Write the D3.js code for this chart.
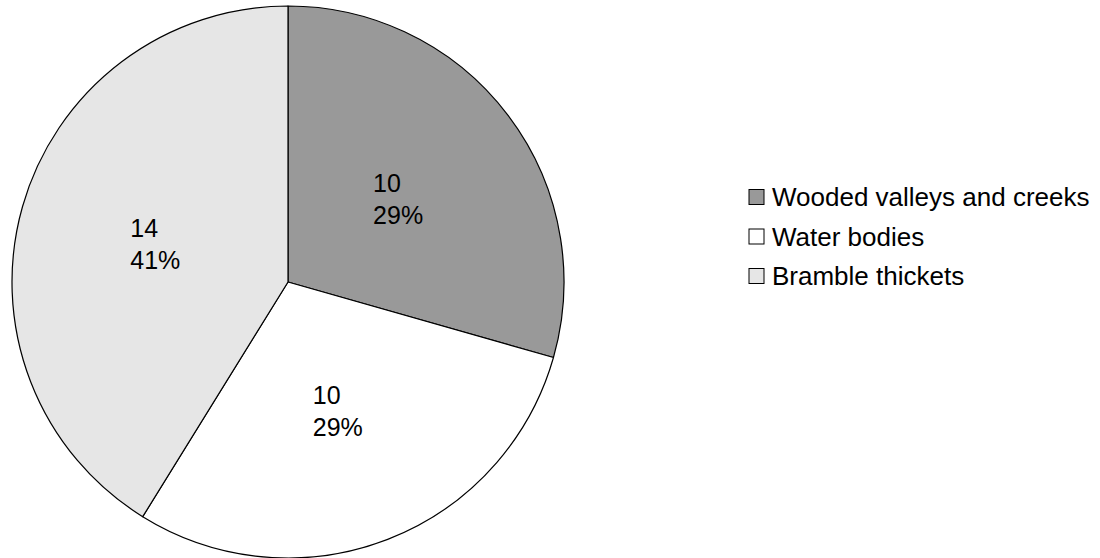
<!DOCTYPE html>
<html>
<head>
<meta charset="utf-8">
<script src="https://cdn.jsdelivr.net/npm/d3@7/dist/d3.min.js"></script>
<style>
  html, body { margin: 0; padding: 0; background: #fff; }
  svg { display: block; }
  text { font-family: "Liberation Sans", Arial, sans-serif; fill: #000; }
</style>
</head>
<body>
<svg id="chart" width="1100" height="558"></svg>
<script>
const categories = ["Wooded valleys and creeks", "Water bodies", "Bramble thickets"];
const values = [10, 10, 14];
const colors = ["#999999", "#ffffff", "#e6e6e6"];

const W = 1100, H = 558;
const cx = 288, cy = 282, R = 276;
const fontSize = 25;
const legendFontSize = 26;

const svg = d3.select("#chart");
const total = d3.sum(values);
const data = categories.map((c, i) => ({ name: c, value: values[i], color: colors[i] }));

const pie = d3.pie().value(d => d.value).sort(null);
const arcs = pie(data);
const arc = d3.arc().innerRadius(0).outerRadius(R);
const labelArc = d3.arc().innerRadius(R * 0.5).outerRadius(R * 0.5);

const g = svg.append("g").attr("transform", `translate(${cx},${cy})`);
g.selectAll("path.slice").data(arcs).join("path")
  .attr("class", "slice")
  .attr("d", arc)
  .attr("fill", d => d.data.color)
  .attr("stroke", "#000")
  .attr("stroke-width", 1.2)
  .attr("stroke-linejoin", "round");

const fmt = v => Math.round(v / total * 100) + "%";
arcs.forEach(a => {
  const [lx, ly] = labelArc.centroid(a);
  const t = g.append("text").attr("font-size", fontSize);
  const l1 = t.append("tspan").text(a.data.value).attr("y", ly - 16).attr("dominant-baseline", "central");
  const l2 = t.append("tspan").text(fmt(a.data.value)).attr("y", ly + 16).attr("dominant-baseline", "central");
  const w = Math.max(l1.node().getComputedTextLength(), l2.node().getComputedTextLength());
  l1.attr("x", lx - w / 2);
  l2.attr("x", lx - w / 2);
});

// Legend
const legendX = 749, legendY0 = 197, legendStep = 39.5, sq = 15;
const lg = svg.append("g");
data.forEach((d, i) => {
  const y = legendY0 + i * legendStep;
  lg.append("rect")
    .attr("x", legendX).attr("y", y - sq / 2)
    .attr("width", sq).attr("height", sq)
    .attr("fill", d.color).attr("stroke", "#000").attr("stroke-width", 1);
  lg.append("text")
    .attr("x", legendX + sq + 8).attr("y", y)
    .attr("dominant-baseline", "central")
    .attr("font-size", legendFontSize)
    .text(d.name);
});
</script>
</body>
</html>
